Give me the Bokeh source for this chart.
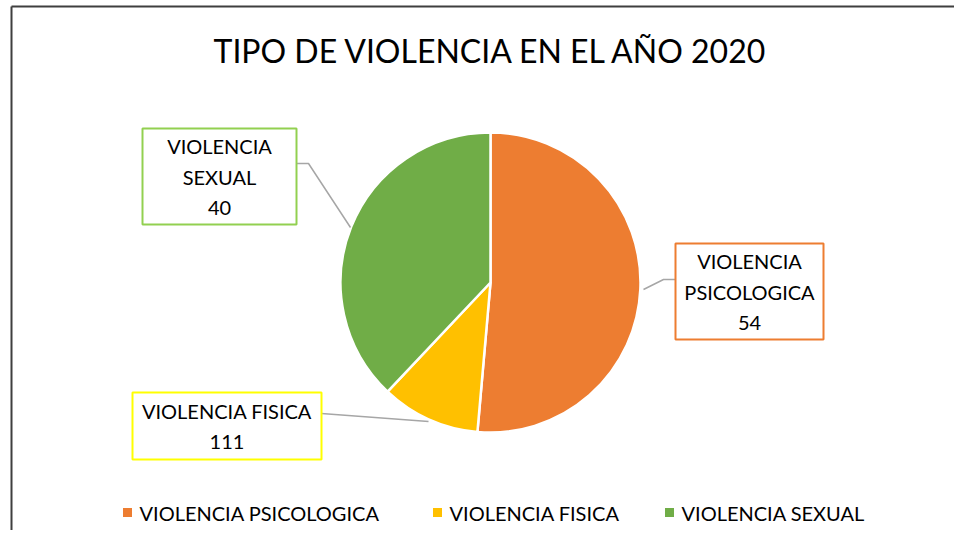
import math
from bokeh.plotting import figure
from bokeh.models import Range1d
from bokeh.core.properties import value
from bokeh.embed import file_html
from bokeh.resources import INLINE

# ---- data ----
title_text = "TIPO DE VIOLENCIA EN EL AÑO 2020"
categories = ["VIOLENCIA PSICOLOGICA", "VIOLENCIA FISICA", "VIOLENCIA SEXUAL"]
slice_values = [111, 23, 82]          # sizes of the drawn slices
label_values = ["54", "111", "40"]     # numbers printed in the data labels
label_lines = [["VIOLENCIA", "PSICOLOGICA"], ["VIOLENCIA FISICA"], ["VIOLENCIA", "SEXUAL"]]
colors = ["#ED7D31", "#FFC000", "#70AD47"]
box_colors = ["#ED7D31", "#FFFF00", "#92D050"]

W, H = 954, 530
FONT = "Lato"

def Y(py):
    return 546 - py

p = figure(width=W, height=H, output_backend="svg", toolbar_location=None,
           x_range=Range1d(0, W), y_range=Range1d(546 - H, 546),
           min_border=0, outline_line_color=None)
p.axis.visible = False
p.grid.visible = False
p.background_fill_color = "white"

# frame border
p.line([11, 11], [Y(6), Y(560)], line_color="#3F3F3F", line_width=2)
p.line([11, 1000], [Y(6), Y(6)], line_color="#3F3F3F", line_width=2)

# title
p.text([491], [Y(50)], text=[title_text], text_font=value(FONT), text_font_size="32px",
       text_align="center", text_baseline="middle", text_color="#000000")

# pie
cx, cy, r = 490, Y(282), 150
total = sum(slice_values)
cum = 0
starts, ends = [], []
for v in slice_values:
    a0 = math.pi / 2 - 2 * math.pi * cum / total
    cum += v
    a1 = math.pi / 2 - 2 * math.pi * cum / total
    starts.append(a0)
    ends.append(a1)
p.wedge(x=[cx] * 3, y=[cy] * 3, radius=r, start_angle=starts, end_angle=ends,
        direction="clock", fill_color=colors, line_color="white", line_width=2.5)

# data label boxes (page coords: left, top, right, bottom)
boxes = [(675, 243, 823, 339), (132, 392, 321, 459), (142, 128, 296, 224)]
leaders = [
    [(675, 279), (663, 279), (643, 289)],
    [(321, 413), (428, 421)],
    [(296, 163), (308, 163), (350, 227)],
]
for i in range(3):
    pts = leaders[i]
    p.line([q[0] for q in pts], [Y(q[1]) for q in pts], line_color="#A6A6A6", line_width=1.5)
for i, (l, t, rr, b) in enumerate(boxes):
    p.quad(left=[l], right=[rr], top=[Y(t)], bottom=[Y(b)], fill_color="white",
           line_color=box_colors[i], line_width=2)
    lines = label_lines[i] + [label_values[i]]
    n = len(lines)
    mid = (t + b) / 2
    step = 31
    xs = [(l + rr) / 2] * n
    ys = [Y(mid + (k - (n - 1) / 2) * step) for k in range(n)]
    p.text(xs, ys, text=lines, text_font=value(FONT), text_font_size="20px",
           text_align="center", text_baseline="middle", text_color="#000000")

# legend
leg_sq_x = [127, 437, 669]
leg_y = Y(512)
p.rect(x=leg_sq_x, y=[leg_y] * 3, width=9, height=9, fill_color=colors, line_color=None)
p.text([x + 12 for x in leg_sq_x], [leg_y] * 3, text=categories, text_font=value(FONT),
       text_font_size="20px", text_align="left", text_baseline="middle", text_color="#000000")

open("out.html", "w").write(file_html(p, INLINE))
